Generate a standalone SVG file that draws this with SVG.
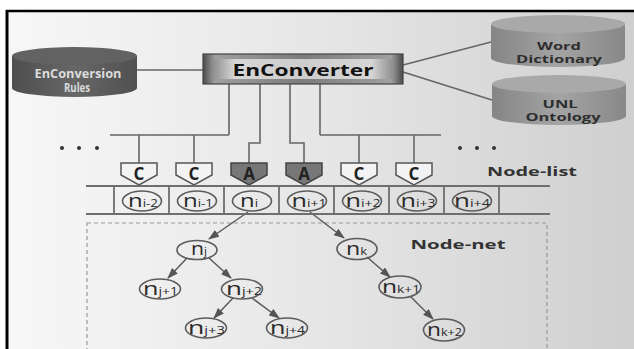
<svg xmlns="http://www.w3.org/2000/svg" width="634" height="349" viewBox="0 0 634 349">
  <defs>
    <linearGradient id="bg" x1="0" y1="0" x2="1" y2="0">
      <stop offset="0" stop-color="#f7f7f7"/>
      <stop offset="0.5" stop-color="#e6e6e6"/>
      <stop offset="1" stop-color="#cfcfcf"/>
    </linearGradient>
    <linearGradient id="boxOuter" x1="0" y1="0" x2="1" y2="0">
      <stop offset="0" stop-color="#4a4a4a"/>
      <stop offset="0.06" stop-color="#a0a0a0"/>
      <stop offset="0.5" stop-color="#7c7c7c"/>
      <stop offset="0.94" stop-color="#a0a0a0"/>
      <stop offset="1" stop-color="#4a4a4a"/>
    </linearGradient>
    <linearGradient id="boxInner" x1="0" y1="0" x2="1" y2="0">
      <stop offset="0" stop-color="#8e8e8e"/>
      <stop offset="0.12" stop-color="#d6d6d6"/>
      <stop offset="0.5" stop-color="#cdcdcd"/>
      <stop offset="0.88" stop-color="#d6d6d6"/>
      <stop offset="1" stop-color="#8e8e8e"/>
    </linearGradient>
    <linearGradient id="cylDark" x1="0" y1="0" x2="1" y2="0">
      <stop offset="0" stop-color="#4e4e4e"/>
      <stop offset="0.5" stop-color="#676767"/>
      <stop offset="1" stop-color="#505050"/>
    </linearGradient>
    <linearGradient id="cylLight" x1="0" y1="0" x2="1" y2="0">
      <stop offset="0" stop-color="#858585"/>
      <stop offset="0.5" stop-color="#a4a4a4"/>
      <stop offset="1" stop-color="#888888"/>
    </linearGradient>
    <marker id="arrow" markerUnits="userSpaceOnUse" markerWidth="11" markerHeight="8" refX="10" refY="4" orient="auto">
      <path d="M0,0 L11,4 L0,8 z" fill="#555"/>
    </marker>
    <style>
      .wire { fill: none; stroke: #666; stroke-width: 1.6; }
      .row { fill: none; stroke: #6e6e6e; stroke-width: 1.8; }
      .edge { fill: none; stroke: #5a5a5a; stroke-width: 1.5; marker-end: url(#arrow); }
      .node { fill: none; stroke: #5c5c5c; stroke-width: 1.6; }
      .nlab { font-family: "Open Sans", "DejaVu Sans", sans-serif; font-size: 18px; fill: #2a2a2a; text-anchor: middle; }
      .sub { font-size: 10px; }
      .gateC { fill: #f3f3f3; stroke: #555; stroke-width: 1.5; }
      .gateA { fill: #777; stroke: #444; stroke-width: 1.5; }
      .glab { font-family: "Open Sans", "DejaVu Sans", sans-serif; font-weight: bold; font-size: 17px; fill: #222; text-anchor: middle; }
      .bold { font-family: "Open Sans", "DejaVu Sans", sans-serif; font-weight: bold; text-anchor: middle; }
      .db { font-size: 10px; fill: #2e2e2e; }
      .dot { fill: #333; }
    </style>
  </defs>

  <!-- page and frame -->
  <rect x="0" y="0" width="634" height="349" fill="#ffffff"/>
  <rect x="8" y="12" width="626" height="337" fill="url(#bg)"/>
  <line x1="6" y1="11" x2="634" y2="11" stroke="#000" stroke-width="2.5"/>
  <line x1="7" y1="10" x2="7" y2="349" stroke="#000" stroke-width="3"/>

  <!-- node-net area -->
  <rect x="87" y="223" width="460" height="140" fill="none" stroke="#9a9a9a" stroke-width="1.2" stroke-dasharray="4 3"/>

  <!-- connectors -->
  <g id="connectors">
    <line class="wire" x1="137" y1="70" x2="203" y2="70"/>
    <line class="wire" x1="403" y1="65" x2="491" y2="42"/>
    <line class="wire" x1="403" y1="72" x2="492" y2="100"/>
    <path class="wire" d="M229,84 V135 M110,135 H229 M139,135 V163 M194,135 V163"/>
    <path class="wire" d="M260,84 V143 H249 V163"/>
    <path class="wire" d="M290,84 V143 H304 V163"/>
    <path class="wire" d="M320,84 V135 M320,135 H441 M359,135 V163 M414,135 V163"/>
    <line class="edge" x1="248" y1="212" x2="209" y2="239"/>
    <line class="edge" x1="310" y1="212" x2="344" y2="238"/>
    <line class="edge" x1="187" y1="258" x2="168" y2="278"/>
    <line class="edge" x1="209" y1="258" x2="231" y2="278"/>
    <line class="edge" x1="233" y1="298" x2="214" y2="318"/>
    <line class="edge" x1="252" y1="298" x2="279" y2="318"/>
    <line class="edge" x1="367" y1="257" x2="390" y2="277"/>
    <line class="edge" x1="411" y1="297" x2="433" y2="319"/>
  </g>

  <!-- databases -->
  <g id="enconversion-rules">
    <path d="M12,56 V88 A62.5,9 0 0 0 137,88 V56 z" fill="url(#cylDark)"/>
    <ellipse cx="74.5" cy="56" rx="62.5" ry="9" fill="#626262"/>
    <text class="bold" x="78" y="78" font-size="11.5" fill="#dcdcdc" textLength="87" lengthAdjust="spacingAndGlyphs">EnConversion</text>
    <text class="bold" x="77" y="92" font-size="11.5" fill="#dcdcdc" textLength="26" lengthAdjust="spacingAndGlyphs">Rules</text>
  </g>
  <g id="word-dictionary">
    <path d="M491,24 V58 A67,9 0 0 0 625,58 V24 z" fill="url(#cylLight)"/>
    <ellipse cx="558" cy="24" rx="67" ry="9" fill="#a9a9a9"/>
    <text class="bold db" x="559" y="49.5" textLength="44" lengthAdjust="spacingAndGlyphs">Word</text>
    <text class="bold db" x="559" y="63" textLength="86" lengthAdjust="spacingAndGlyphs">Dictionary</text>
  </g>
  <g id="unl-ontology">
    <path d="M492,84 V116 A67,9 0 0 0 626,116 V84 z" fill="url(#cylLight)"/>
    <ellipse cx="559" cy="84" rx="67" ry="9" fill="#a9a9a9"/>
    <text class="bold db" x="560" y="107.5" textLength="35" lengthAdjust="spacingAndGlyphs">UNL</text>
    <text class="bold db" x="563" y="121" textLength="75" lengthAdjust="spacingAndGlyphs">Ontology</text>
  </g>

  <!-- converter box -->
  <g id="enconverter">
    <rect x="203" y="54" width="200" height="30" fill="url(#boxOuter)" stroke="#444" stroke-width="1.2"/>
    <rect x="213" y="59" width="180" height="20" fill="url(#boxInner)"/>
    <text class="bold" x="303" y="76" font-size="16" fill="#111" textLength="141" lengthAdjust="spacingAndGlyphs">EnConverter</text>
  </g>

  <!-- ellipsis marks -->
  <g id="dots-left">
    <circle class="dot" cx="62" cy="148" r="2"/>
    <circle class="dot" cx="79" cy="148" r="2"/>
    <circle class="dot" cx="97" cy="148" r="2"/>
  </g>
  <g id="dots-right">
    <circle class="dot" cx="460" cy="148" r="2"/>
    <circle class="dot" cx="477" cy="148" r="2"/>
    <circle class="dot" cx="494" cy="148" r="2"/>
  </g>

  <!-- gates -->
  <g id="gate-1"><path class="gateC" d="M121,163 h36 v12 l-18,10 l-18,-10 z"/><text class="glab" x="139" y="180">C</text></g>
  <g id="gate-2"><path class="gateC" d="M176,163 h36 v12 l-18,10 l-18,-10 z"/><text class="glab" x="194" y="180">C</text></g>
  <g id="gate-3"><path class="gateA" d="M231,163 h36 v12 l-18,10 l-18,-10 z"/><text class="glab" x="249" y="180">A</text></g>
  <g id="gate-4"><path class="gateA" d="M286,163 h36 v12 l-18,10 l-18,-10 z"/><text class="glab" x="304" y="180">A</text></g>
  <g id="gate-5"><path class="gateC" d="M341,163 h36 v12 l-18,10 l-18,-10 z"/><text class="glab" x="359" y="180">C</text></g>
  <g id="gate-6"><path class="gateC" d="M396,163 h36 v12 l-18,10 l-18,-10 z"/><text class="glab" x="414" y="180">C</text></g>

  <text id="label-node-list" class="bold" x="532" y="176" font-size="13" fill="#333" textLength="90" lengthAdjust="spacingAndGlyphs">Node-list</text>

  <!-- node list cells -->
  <g id="node-list">
    <path class="row" d="M86,186 H550 M86,214 H550 M114,186 V214 M169,186 V214 M224,186 V214 M279,186 V214 M334,186 V214 M389,186 V214 M444,186 V214 M499,186 V214"/>
  </g>
  <g id="n-i-2"><ellipse class="node" cx="142" cy="201" rx="19.5" ry="10"/><text class="nlab" x="143" y="206.5" textLength="30" lengthAdjust="spacingAndGlyphs">n<tspan class="sub">i-2</tspan></text></g>
  <g id="n-i-1"><ellipse class="node" cx="197" cy="201" rx="19.5" ry="10"/><text class="nlab" x="198" y="206.5" textLength="30" lengthAdjust="spacingAndGlyphs">n<tspan class="sub">i-1</tspan></text></g>
  <g id="n-i"><ellipse class="node" cx="252" cy="201" rx="19.5" ry="10"/><text class="nlab" x="249" y="206.5" textLength="18" lengthAdjust="spacingAndGlyphs">n<tspan class="sub">i</tspan></text></g>
  <g id="n-i+1"><ellipse class="node" cx="307" cy="201" rx="19.5" ry="10"/><text class="nlab" x="309" y="206.5" textLength="35" lengthAdjust="spacingAndGlyphs">n<tspan class="sub">i+1</tspan></text></g>
  <g id="n-i+2"><ellipse class="node" cx="362" cy="201" rx="19.5" ry="10"/><text class="nlab" x="363" y="206.5" textLength="35" lengthAdjust="spacingAndGlyphs">n<tspan class="sub">i+2</tspan></text></g>
  <g id="n-i+3"><ellipse class="node" cx="417" cy="201" rx="19.5" ry="10"/><text class="nlab" x="418" y="206.5" textLength="35" lengthAdjust="spacingAndGlyphs">n<tspan class="sub">i+3</tspan></text></g>
  <g id="n-i+4"><ellipse class="node" cx="472" cy="201" rx="19.5" ry="10"/><text class="nlab" x="472" y="206.5" textLength="36" lengthAdjust="spacingAndGlyphs">n<tspan class="sub">i+4</tspan></text></g>

  <text id="label-node-net" class="bold" x="458" y="249" font-size="13" fill="#333" textLength="95" lengthAdjust="spacingAndGlyphs">Node-net</text>

  <!-- node net -->
  <g id="n-j"><ellipse class="node" cx="197" cy="250" rx="20" ry="9.5"/><text class="nlab" x="199" y="255" textLength="16" lengthAdjust="spacingAndGlyphs">n<tspan class="sub">j</tspan></text></g>
  <g id="n-j+1"><ellipse class="node" cx="160" cy="289" rx="20.5" ry="10"/><text class="nlab" x="160.5" y="294.5" textLength="35" lengthAdjust="spacingAndGlyphs">n<tspan class="sub">j+1</tspan></text></g>
  <g id="n-j+2"><ellipse class="node" cx="242" cy="289" rx="20.5" ry="10"/><text class="nlab" x="244" y="294.5" textLength="36" lengthAdjust="spacingAndGlyphs">n<tspan class="sub">j+2</tspan></text></g>
  <g id="n-j+3"><ellipse class="node" cx="206" cy="328" rx="20.5" ry="10"/><text class="nlab" x="206.5" y="333.5" textLength="37" lengthAdjust="spacingAndGlyphs">n<tspan class="sub">j+3</tspan></text></g>
  <g id="n-j+4"><ellipse class="node" cx="287" cy="328" rx="20.5" ry="10"/><text class="nlab" x="287.5" y="333.5" textLength="35" lengthAdjust="spacingAndGlyphs">n<tspan class="sub">j+4</tspan></text></g>
  <g id="n-k"><ellipse class="node" cx="357" cy="249" rx="20" ry="10.5"/><text class="nlab" x="356.5" y="254.5" textLength="21" lengthAdjust="spacingAndGlyphs">n<tspan class="sub">k</tspan></text></g>
  <g id="n-k+1"><ellipse class="node" cx="400" cy="287" rx="21" ry="11"/><text class="nlab" x="401" y="292.5" textLength="38" lengthAdjust="spacingAndGlyphs">n<tspan class="sub">k+1</tspan></text></g>
  <g id="n-k+2"><ellipse class="node" cx="444" cy="330" rx="20.5" ry="11"/><text class="nlab" x="444.5" y="335.5" textLength="35" lengthAdjust="spacingAndGlyphs">n<tspan class="sub">k+2</tspan></text></g>
</svg>
